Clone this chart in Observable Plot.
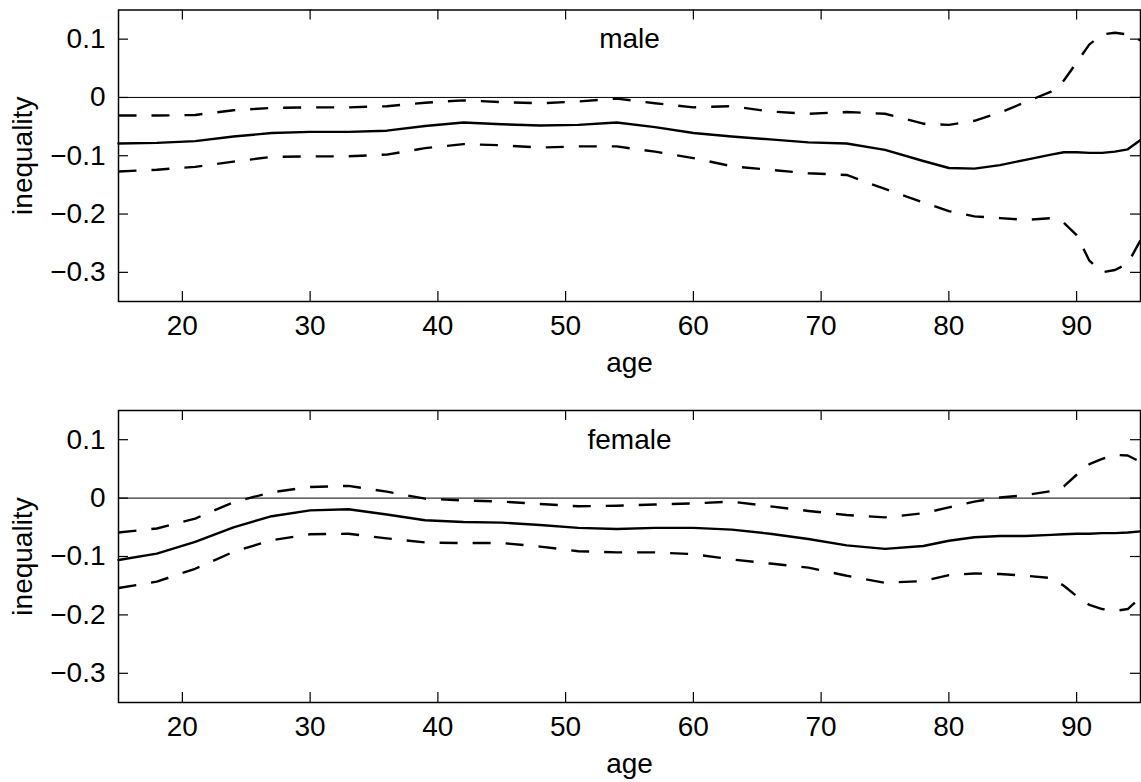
<!DOCTYPE html>
<html>
<head>
<meta charset="utf-8">
<script src="https://cdn.jsdelivr.net/npm/d3@7"></script>
<script src="https://cdn.jsdelivr.net/npm/@observablehq/plot@0.6"></script>
<style>
  html, body { margin: 0; padding: 0; background: #fff; }
  #chart svg { display: block; }
</style>
</head>
<body>
<div id="chart"></div>
<script>
const ages = [15,18,21,24,27,30,33,36,39,42,45,48,51,54,57,60,63,66,69,72,75,78,80,82,84,86,88,89,90,91,92,93,94,95];

const maleMean  = [-0.079,-0.078,-0.075,-0.067,-0.061,-0.059,-0.059,-0.057,-0.049,-0.043,-0.046,-0.048,-0.047,-0.043,-0.051,-0.061,-0.067,-0.072,-0.077,-0.079,-0.090,-0.109,-0.121,-0.122,-0.116,-0.107,-0.098,-0.094,-0.094,-0.095,-0.095,-0.093,-0.089,-0.073];
const maleUpper = [-0.031,-0.031,-0.030,-0.022,-0.018,-0.017,-0.017,-0.015,-0.009,-0.005,-0.008,-0.010,-0.007,-0.002,-0.010,-0.017,-0.015,-0.024,-0.028,-0.025,-0.028,-0.045,-0.047,-0.040,-0.026,-0.008,0.010,0.029,0.060,0.091,0.108,0.111,0.108,0.098];
const maleLower = [-0.127,-0.124,-0.119,-0.110,-0.102,-0.101,-0.101,-0.098,-0.087,-0.080,-0.082,-0.086,-0.084,-0.084,-0.093,-0.104,-0.118,-0.124,-0.130,-0.133,-0.157,-0.180,-0.195,-0.204,-0.207,-0.210,-0.207,-0.215,-0.236,-0.280,-0.300,-0.296,-0.285,-0.245];

const femaleMean  = [-0.106,-0.095,-0.075,-0.050,-0.031,-0.021,-0.019,-0.028,-0.038,-0.041,-0.042,-0.046,-0.051,-0.053,-0.051,-0.051,-0.054,-0.061,-0.070,-0.081,-0.087,-0.082,-0.073,-0.067,-0.065,-0.065,-0.063,-0.062,-0.061,-0.061,-0.060,-0.060,-0.059,-0.057];
const femaleUpper = [-0.059,-0.052,-0.035,-0.007,0.010,0.019,0.021,0.011,-0.001,-0.004,-0.006,-0.010,-0.014,-0.013,-0.011,-0.009,-0.006,-0.014,-0.022,-0.029,-0.033,-0.026,-0.016,-0.006,0.001,0.005,0.012,0.020,0.040,0.058,0.067,0.074,0.073,0.062];
const femaleLower = [-0.154,-0.143,-0.121,-0.092,-0.072,-0.062,-0.061,-0.069,-0.076,-0.077,-0.077,-0.083,-0.091,-0.093,-0.093,-0.096,-0.105,-0.112,-0.119,-0.133,-0.145,-0.142,-0.132,-0.129,-0.130,-0.133,-0.137,-0.150,-0.168,-0.183,-0.190,-0.193,-0.190,-0.170];

const xTicks = [20,30,40,50,60,70,80,90];
const yTicks = [0.1,0,-0.1,-0.2,-0.3];
const xDomain = [15,95];
const yDomain = [-0.35,0.15];
const panelNames = ["male","female"];
const xLabel = "age";
const yLabel = "inequality";

const FONT = "'Liberation Sans', Arial, Helvetica, sans-serif";
const FS = 28;
const W = 1141, H = 391, ML = 118, MR = 1;
const TICK = 10; // tick length in pixels
const fmtY = d => (d < 0 ? "\u2212" : "") + String(Math.abs(d));

function panel(name, mean, upper, lower, mTop, mBottom) {
  const dash = "18,15";
  const fh = H - mTop - mBottom;
  const fw = W - ML - MR;
  // tick length converted to data units of each scale
  const ty = TICK * (yDomain[1] - yDomain[0]) / fh;
  const tx = TICK * (xDomain[1] - xDomain[0]) / fw;
  const tickStyle = {stroke: "#000", strokeWidth: 1.2};
  return Plot.plot({
    width: W,
    height: H,
    marginTop: mTop,
    marginBottom: mBottom,
    marginLeft: ML,
    marginRight: MR,
    x: {domain: xDomain, ticks: xTicks},
    y: {domain: yDomain, ticks: yTicks},
    style: {fontFamily: FONT, fontSize: FS + "px", background: "#fff", color: "#000", overflow: "visible"},
    marks: [
      Plot.ruleY([0], {stroke: "#000", strokeWidth: 1}),
      Plot.line(ages, {x: ages, y: upper, stroke: "#000", strokeWidth: 2.4, strokeDasharray: dash, strokeLinecap: "butt"}),
      Plot.line(ages, {x: ages, y: lower, stroke: "#000", strokeWidth: 2.4, strokeDasharray: dash, strokeLinecap: "butt"}),
      Plot.line(ages, {x: ages, y: mean, stroke: "#000", strokeWidth: 2.4}),
      // inward ticks on all four sides
      Plot.ruleX(xTicks, {x: d => d, y1: yDomain[0], y2: yDomain[0] + ty, ...tickStyle}),
      Plot.ruleX(xTicks, {x: d => d, y1: yDomain[1], y2: yDomain[1] - ty, ...tickStyle}),
      Plot.ruleY(yTicks, {y: d => d, x1: xDomain[0], x2: xDomain[0] + tx, ...tickStyle}),
      Plot.ruleY(yTicks, {y: d => d, x1: xDomain[1], x2: xDomain[1] - tx, ...tickStyle}),
      Plot.frame({stroke: "#000", strokeWidth: 1.5}),
      Plot.axisX({anchor: "bottom", ticks: xTicks, tickSize: 0, tickPadding: 14, label: null, fontSize: FS}),
      Plot.axisY({anchor: "left", ticks: yTicks, tickSize: 0, tickPadding: 13, tickFormat: fmtY, label: null, fontSize: FS}),
      Plot.text([xLabel], {frameAnchor: "bottom", dy: 62, lineAnchor: "middle", textAnchor: "middle", text: d => d, fontSize: FS, fill: "#000"}),
      Plot.text([yLabel], {frameAnchor: "left", dx: -95, rotate: -90, lineAnchor: "middle", textAnchor: "middle", text: d => d, fontSize: FS, fill: "#000"}),
      Plot.text([name], {x: () => 55, y: () => 0.1, lineAnchor: "middle", textAnchor: "middle", text: d => d, fontSize: FS, fill: "#000"})
    ]
  });
}

const root = document.getElementById("chart");
root.appendChild(panel(panelNames[0], maleMean, maleUpper, maleLower, 9.5, 90));
root.appendChild(panel(panelNames[1], femaleMean, femaleUpper, femaleLower, 19, 80));
</script>
</body>
</html>
